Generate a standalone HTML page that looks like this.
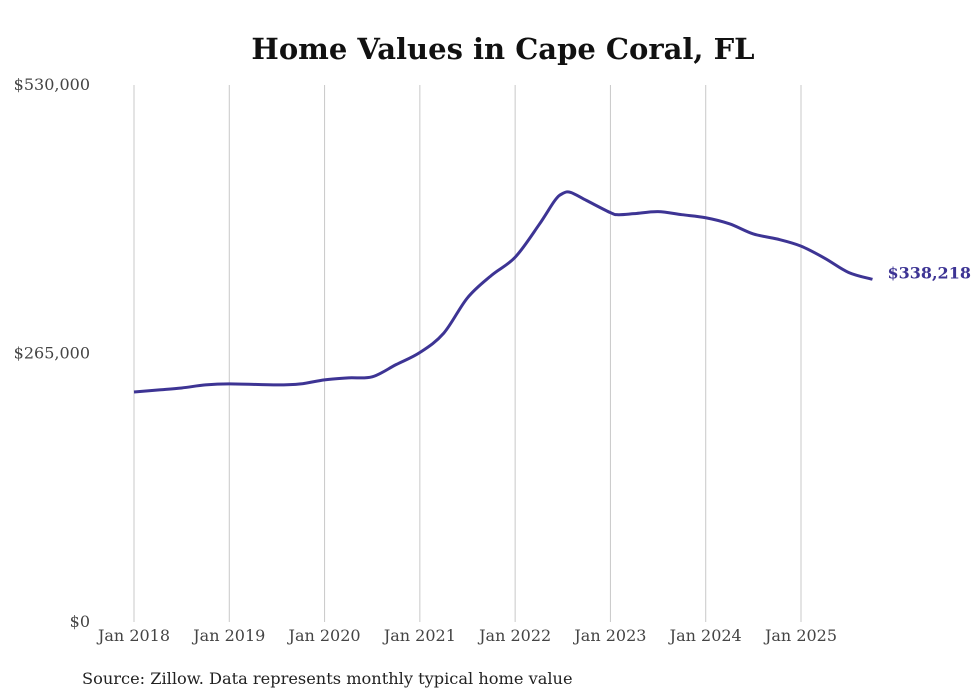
<!DOCTYPE html>
<html><head><meta charset="utf-8"><style>
body{margin:0;background:#fff;}
svg{display:block;font-family:"DejaVu Serif","Liberation Serif",serif;}
</style></head><body>
<svg id="chart" width="980" height="699">
<text x="503" y="59" text-anchor="middle" font-size="29" font-weight="bold" fill="#111">Home Values in Cape Coral, FL</text>
<g id="grid"></g><g id="yaxis"></g><g id="xaxis"></g><g id="series"></g>
<text x="82" y="684" font-size="16.2" fill="#222">Source: Zillow. Data represents monthly typical home value</text>
</svg>
<script>
const months=[0,3,6,9,12,18,21,24,27,30,33,36,39,42,45,48,51,53,54,55,57,60,61,63,66,69,72,75,78,81,84,87,90,93];
const values=[227000,229000,231000,234000,235000,234000,235000,239000,241000,242000,254000,266000,285000,320000,342000,360000,392000,416000,423000,424000,416000,404000,402000,403000,405000,402000,399000,393000,383000,378000,371000,359000,345000,338218];
const xLabels=["Jan 2018","Jan 2019","Jan 2020","Jan 2021","Jan 2022","Jan 2023","Jan 2024","Jan 2025"];
const yTicks=[0,265000,530000];
const yTickLabels=["$0","$265,000","$530,000"];
const endLabel="$338,218";
const ns="http://www.w3.org/2000/svg";
const x=m=>134+m*(667/84);
const y=v=>622-v*(537/530000);
function mk(t,a,p){const e=document.createElementNS(ns,t);for(const k in a)e.setAttribute(k,a[k]);p.appendChild(e);return e;}
const grid=document.getElementById('grid'),xa=document.getElementById('xaxis'),ya=document.getElementById('yaxis'),se=document.getElementById('series');
xLabels.forEach((l,i)=>{
 const g=mk('line',{x1:x(i*12),x2:x(i*12),y1:85,y2:622,stroke:'#c8c8c8','stroke-width':1},grid);
 
 
 const t=mk('text',{x:x(i*12),y:641,'text-anchor':'middle','font-size':16,fill:'#444'},xa);t.textContent=l;
 
 
});
yTicks.forEach((v,i)=>{
 const t=mk('text',{x:90,y:y(v)+5,'text-anchor':'end','font-size':16,fill:'#444'},ya);t.textContent=yTickLabels[i];
 
 
});
const pts=months.map((m,i)=>[x(m),y(values[i])]);
let d='M'+pts[0][0]+','+pts[0][1];
for(let i=0;i<pts.length-1;i++){const p0=pts[Math.max(0,i-1)],p1=pts[i],p2=pts[i+1],p3=pts[Math.min(pts.length-1,i+2)];
 d+=` C${p1[0]+(p2[0]-p0[0])/6},${p1[1]+(p2[1]-p0[1])/6} ${p2[0]-(p3[0]-p1[0])/6},${p2[1]-(p3[1]-p1[1])/6} ${p2[0]},${p2[1]}`;}
const line=mk('path',{d:d,fill:'none',stroke:'#3d3494','stroke-width':3,'stroke-linejoin':'round'},se);


const last=pts[pts.length-1];
const el=mk('text',{x:last[0]+15,y:last[1]-1,'font-size':16,'font-weight':'bold',fill:'#3d3494'},se);el.textContent=endLabel;


</script>
</body></html>
